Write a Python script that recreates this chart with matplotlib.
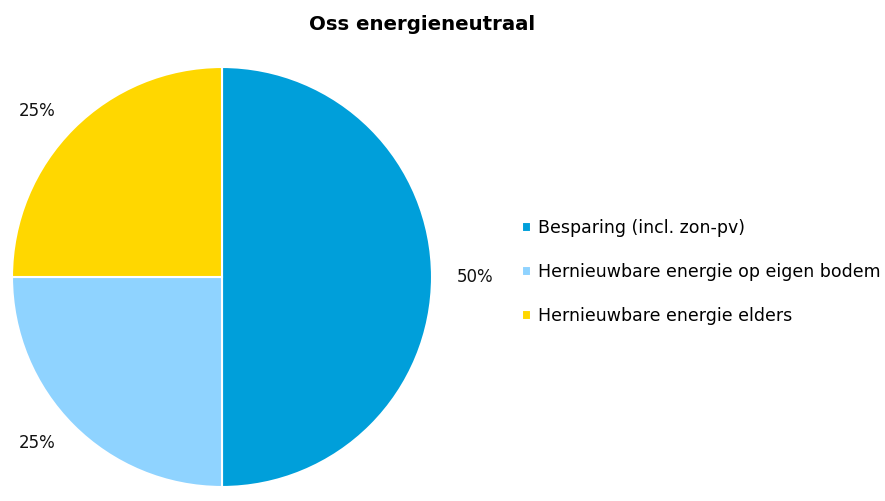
import matplotlib.pyplot as plt

# chart data
categories = ['Besparing (incl. zon-pv)',
              'Hernieuwbare energie op eigen bodem',
              'Hernieuwbare energie elders']
shares = [50, 25, 25]
colors = ['#009FDA', '#8FD3FF', '#FFD700']

plt.rcParams['font.family'] = ['DejaVu Sans']

fig = plt.figure(figsize=(8.85, 5.01), dpi=100)
# pie axes: centre ~ (222, 277) px, radius ~ 210 px
ax = fig.add_axes([12 / 885, 14 / 501, 420 / 885, 420 / 501])
wedges, texts = ax.pie(
    shares, colors=colors, startangle=90, counterclock=False,
    labels=[f'{v}%' for v in shares], labeldistance=1.12,
    wedgeprops=dict(edgecolor='white', linewidth=1.5),
    textprops=dict(fontsize=12, color='#111111'),
)
ax.set_xlim(-1, 1)
ax.set_ylim(-1, 1)
ax.set_aspect('equal')

fig.text(422 / 885, 1 - 25 / 501, 'Oss energieneutraal', ha='center', va='center',
         fontsize=14.2, fontweight='bold')

fig.legend(wedges, categories, loc='center left', bbox_to_anchor=(515 / 885, 1 - 272 / 501),
           frameon=False, fontsize=12.5, handlelength=0.5, handleheight=0.5,
           handletextpad=0.45, labelspacing=1.5, borderaxespad=0)

fig.savefig('out.png', dpi=100)
